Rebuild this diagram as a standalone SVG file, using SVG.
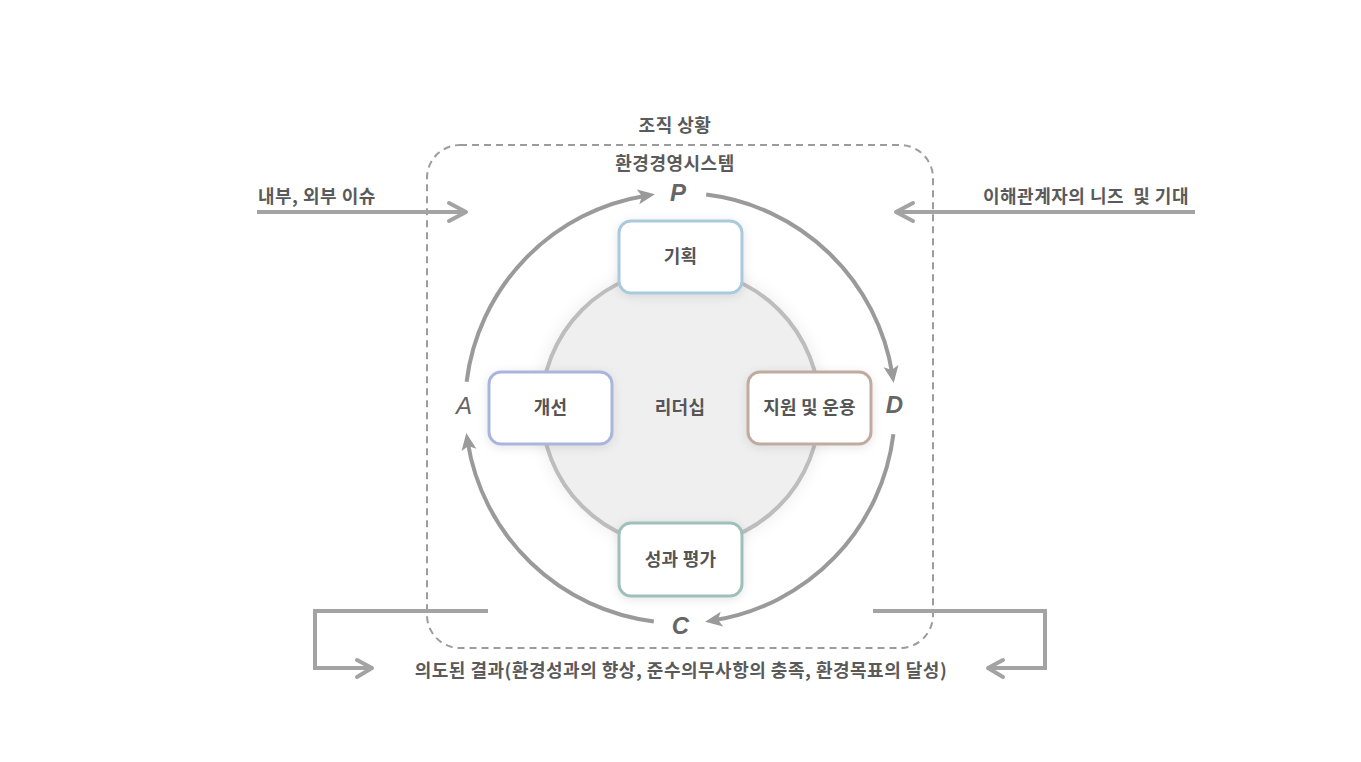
<svg xmlns="http://www.w3.org/2000/svg" width="1361" height="762" viewBox="0 0 1361 762">
  <defs>
    <style>
      .kt { font-family: "Noto Sans CJK KR", "Noto Sans", sans-serif; font-weight: bold; font-size: 18px; letter-spacing: 0.5px; fill: #5a5a5a; }
      .bt { font-family: "Noto Sans CJK KR", "Noto Sans", sans-serif; font-weight: bold; font-size: 18px; letter-spacing: 0.2px; fill: #555555; text-anchor: middle; }
      .box { fill: #ffffff; stroke-width: 3; }
      .arc { fill: none; stroke: #9a9a9a; stroke-width: 4; stroke-linecap: butt; marker-end: url(#head); }
      .line { fill: none; stroke: #a3a3a3; stroke-width: 4; }
      .chev { fill: none; stroke: #a3a3a3; stroke-width: 4; stroke-linecap: round; stroke-linejoin: round; }
      .lt { font-family: "Liberation Sans", Arial, sans-serif; font-style: italic; font-size: 24px; fill: #666666; text-anchor: middle; }
    </style>
    <marker id="head" markerUnits="userSpaceOnUse" markerWidth="24" markerHeight="20" viewBox="0 -10 24 20" refX="8" refY="0" orient="auto">
      <path d="M0,-7.5 L17,0 L0,7.5 L4,0 Z" fill="#9a9a9a"/>
    </marker>
    <filter id="sh" x="-30%" y="-30%" width="160%" height="160%">
      <feDropShadow dx="0" dy="2" stdDeviation="5" flood-color="#000" flood-opacity="0.10"/>
    </filter>
    <filter id="csh" x="-20%" y="-20%" width="140%" height="140%">
      <feDropShadow dx="0" dy="0" stdDeviation="8" flood-color="#000" flood-opacity="0.08"/>
    </filter>
  </defs>
  <rect width="1361" height="762" fill="#ffffff"/>

  <g id="frame">
    <rect x="427" y="145" width="506" height="503" rx="33" ry="33" fill="none" stroke="#9c9c9c" stroke-width="2" stroke-dasharray="7 5"/>
    <text class="kt" x="675" y="132" text-anchor="middle">조직 상황</text>
    <text class="kt" x="675" y="170" text-anchor="middle">환경경영시스템</text>
  </g>

  <g id="leadership">
    <circle cx="680.5" cy="408" r="139" fill="#efefef" stroke="#bdbdbd" stroke-width="4" filter="url(#csh)"/>
    <text class="bt" x="680" y="414">리더십</text>
  </g>

  <g id="connectors">
    <path class="arc" d="M466.6,381.8 A215,215 0 0 1 646.0,195.7"/>
    <path class="arc" d="M706.2,194.6 A215,215 0 0 1 892.3,374.0"/>
    <path class="arc" d="M893.4,434.2 A215,215 0 0 1 714.0,620.3"/>
    <path class="arc" d="M653.8,621.4 A215,215 0 0 1 467.7,442.0"/>

    <path class="line" d="M257,212 L465,212"/>
    <path class="chev" d="M449,203 L466,212 L449,221"/>
    <path class="line" d="M1195,212 L897,212"/>
    <path class="chev" d="M913,203 L896,212 L913,221"/>

    <path class="line" d="M488,611 L315,611 L315,668 L371,668"/>
    <path class="chev" d="M357,660 L372,668 L357,677"/>
    <path class="line" d="M873,611 L1045,611 L1045,668 L989,668"/>
    <path class="chev" d="M1003,660 L988,668 L1003,677"/>
  </g>

  <g id="labels">
    <text class="lt" x="678" y="201" font-weight="bold">P</text>
    <text class="lt" x="894.5" y="413" font-weight="bold">D</text>
    <text class="lt" x="680.5" y="634" font-weight="bold">C</text>
    <text class="lt" x="464" y="414" fill="#777777" font-size="22">A</text>
  </g>

  <g id="node-plan">
    <rect class="box" x="619" y="221" width="123" height="72" rx="12" stroke="#a9c9dd" filter="url(#sh)"/>
    <text class="bt" x="680.5" y="263">기획</text>
  </g>
  <g id="node-act">
    <rect class="box" x="489" y="372" width="123" height="72" rx="12" stroke="#a8b6dd" filter="url(#sh)"/>
    <text class="bt" x="550.5" y="414">개선</text>
  </g>
  <g id="node-do">
    <rect class="box" x="748" y="372" width="123" height="72" rx="12" stroke="#bfab9f" filter="url(#sh)"/>
    <text class="bt" x="809.5" y="414">지원 및 운용</text>
  </g>
  <g id="node-check">
    <rect class="box" x="619" y="523" width="123" height="73" rx="12" stroke="#9fbfba" filter="url(#sh)"/>
    <text class="bt" x="680.5" y="566">성과 평가</text>
  </g>

  <g id="side-texts">
    <text class="kt" x="258" y="203">내부, 외부 이슈</text>
    <text class="kt" x="1189" y="203" text-anchor="end" xml:space="preserve">이해관계자의 니즈  및 기대</text>
    <text class="kt" x="681" y="677" text-anchor="middle">의도된 결과(환경성과의 향상, 준수의무사항의 충족, 환경목표의 달성)</text>
  </g>
</svg>
